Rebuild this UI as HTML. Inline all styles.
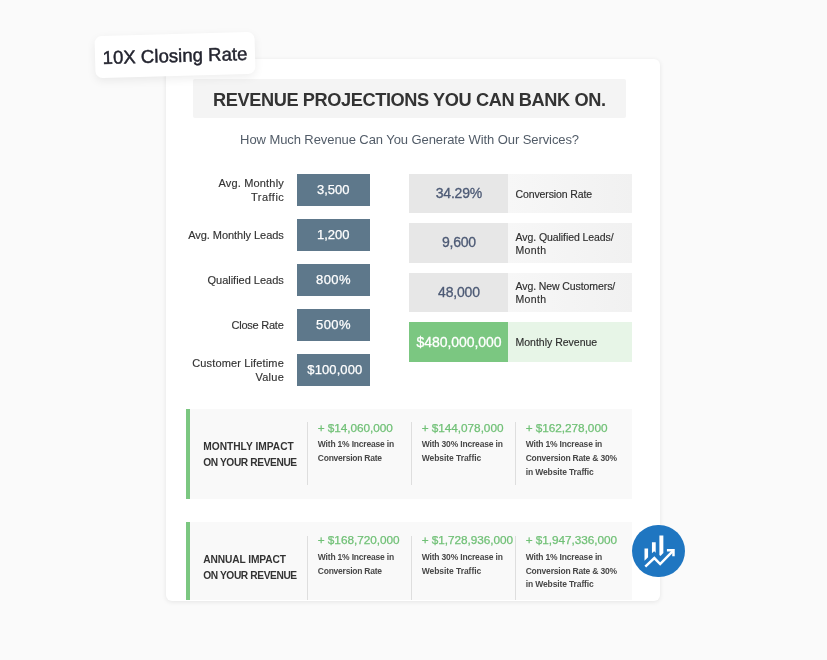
<!DOCTYPE html>
<html><head><meta charset="utf-8"><title>Revenue Projections</title>
<style>
*{box-sizing:border-box;margin:0;padding:0}
html,body{width:827px;height:660px;overflow:hidden}
body{background:#fafafa;font-family:"Liberation Sans",sans-serif;position:relative;color:#333}
.abs{position:absolute}
.card{left:166.4px;top:59px;width:493.4px;height:541.6px;background:#fff;border-radius:6px;box-shadow:0 1px 5px rgba(0,0,0,.09)}
.titlebar{left:193.3px;top:79px;width:432.4px;height:38.8px;background:#f4f4f4;border-radius:2px}
.inp{left:297px;width:72.5px;height:32px;background:#5e788b}
.rvb{left:409.3px;width:99px;height:39.5px;background:#e7e7e7}
.rlb{left:508.3px;width:123.7px;height:39.5px;background:linear-gradient(to right,#f7f7f7,#f1f1f1)}
.panel{left:185.8px;width:446.2px;background:#f9f9f9;border-left:4px solid #7bc781}
.div{width:1px;background:#dedede}
.t{position:absolute;white-space:nowrap;display:inline-block;line-height:1.2}
.title{font-weight:bold;font-size:18.2px;color:#333}
.sub{font-size:13px;color:#525c68}
.lbl{font-size:11px;color:#333;-webkit-text-stroke:.15px #333}
.iv{font-size:13px;color:#fff;-webkit-text-stroke:.25px #fff}
.rv{font-size:14px;color:#4d5a75;-webkit-text-stroke:.3px #4d5a75}
.rv.w{color:#fff;-webkit-text-stroke:.3px #fff}
.rl{font-size:10.5px;color:#2e2e2e;-webkit-text-stroke:.15px #2e2e2e}
.ph{font-weight:bold;font-size:10.2px;color:#333}
.amt{color:#70c076;font-size:11.8px;-webkit-text-stroke:.25px #70c076}
.desc{font-size:8.5px;font-weight:bold;color:#484848}
.tag{left:94.6px;top:33.6px;width:160px;height:41.6px;background:#fff;border-radius:7px;transform:rotate(-1.6deg);box-shadow:0 3px 10px rgba(0,0,0,.07)}
.tagt{left:94.5px;top:33.9px;width:160px;height:42px;transform:rotate(-1.6deg);font-size:18.5px;line-height:43px;color:#23242f;text-align:center;white-space:nowrap;-webkit-text-stroke:.45px #23242f;letter-spacing:.05px}
.circ{left:632.2px;top:524.7px;width:52.6px;height:52.6px;border-radius:50%;background:#1f76c1}
</style></head><body>
<div class="abs card"></div>
<div class="abs titlebar"></div>
<div class="abs inp" style="top:173.7px"></div>
<div class="abs inp" style="top:218.7px"></div>
<div class="abs inp" style="top:263.7px"></div>
<div class="abs inp" style="top:308.7px"></div>
<div class="abs inp" style="top:353.7px"></div>
<div class="abs rvb" style="top:173.7px"></div><div class="abs rlb" style="top:173.7px"></div>
<div class="abs rvb" style="top:223.2px"></div><div class="abs rlb" style="top:223.2px"></div>
<div class="abs rvb" style="top:272.8px"></div><div class="abs rlb" style="top:272.8px"></div>
<div class="abs rvb" style="top:322.3px;background:#7bc781"></div><div class="abs rlb" style="top:322.3px;background:#e7f5e7"></div>
<div class="abs panel" style="top:408.7px;height:90px"></div>
<div class="abs div" style="left:307px;top:421.8px;height:63.2px"></div>
<div class="abs div" style="left:411px;top:421.8px;height:63.2px"></div>
<div class="abs div" style="left:515px;top:421.8px;height:63.2px"></div>
<div class="abs panel" style="top:522.3px;height:78.2px"></div>
<div class="abs div" style="left:307px;top:535.8px;height:64.7px"></div>
<div class="abs div" style="left:411px;top:535.8px;height:64.7px"></div>
<div class="abs div" style="left:515px;top:535.8px;height:64.7px"></div>
<span class="t title" style="letter-spacing:-0.398px;left:213.00px;top:90.00px">REVENUE PROJECTIONS YOU CAN BANK ON.</span>
<span class="t sub" style="letter-spacing:-0.083px;left:240.10px;top:132.00px">How Much Revenue Can You Generate With Our Services?</span>
<span class="t lbl" style="letter-spacing:0.183px;left:218.40px;top:177.00px">Avg. Monthly</span>
<span class="t lbl" style="letter-spacing:0.458px;left:251.10px;top:191.00px">Traffic</span>
<span class="t lbl" style="letter-spacing:-0.048px;left:188.20px;top:229.00px">Avg. Monthly Leads</span>
<span class="t lbl" style="letter-spacing:-0.011px;left:207.50px;top:274.00px">Qualified Leads</span>
<span class="t lbl" style="letter-spacing:-0.236px;left:231.50px;top:319.00px">Close Rate</span>
<span class="t lbl" style="letter-spacing:0.146px;left:192.20px;top:357.00px">Customer Lifetime</span>
<span class="t lbl" style="letter-spacing:0.243px;left:255.50px;top:371.00px">Value</span>
<span class="t iv" style="letter-spacing:-0.012px;left:317.05px;top:182.00px">3,500</span>
<span class="t iv" style="letter-spacing:-0.012px;left:317.05px;top:227.00px">1,200</span>
<span class="t iv" style="letter-spacing:0.450px;left:316.00px;top:272.00px">800%</span>
<span class="t iv" style="letter-spacing:0.450px;left:316.00px;top:317.00px">500%</span>
<span class="t iv" style="letter-spacing:0.109px;left:307.30px;top:362.00px">$100,000</span>
<span class="t rv" style="letter-spacing:-0.177px;left:435.70px;top:185.00px">34.29%</span>
<span class="t rv" style="letter-spacing:-0.237px;left:441.95px;top:234.00px">9,600</span>
<span class="t rv" style="letter-spacing:-0.186px;left:438.05px;top:284.00px">48,000</span>
<span class="t rv w" style="letter-spacing:-0.049px;left:416.45px;top:334.00px">$480,000,000</span>
<span class="t rl" style="letter-spacing:-0.108px;left:515.50px;top:188.00px">Conversion Rate</span>
<span class="t rl" style="letter-spacing:-0.071px;left:515.50px;top:231.00px">Avg. Qualified Leads/</span>
<span class="t rl" style="letter-spacing:0.328px;left:515.50px;top:244.00px">Month</span>
<span class="t rl" style="letter-spacing:-0.091px;left:515.50px;top:280.00px">Avg. New Customers/</span>
<span class="t rl" style="letter-spacing:0.328px;left:515.50px;top:293.00px">Month</span>
<span class="t rl" style="letter-spacing:-0.001px;left:515.50px;top:336.00px">Monthly Revenue</span>
<span class="t ph" style="letter-spacing:0.017px;left:203.20px;top:441.00px">MONTHLY IMPACT</span>
<span class="t ph" style="letter-spacing:-0.390px;left:203.20px;top:457.00px">ON YOUR REVENUE</span>
<span class="t amt" style="letter-spacing:-0.073px;left:317.80px;top:421.00px">+ $14,060,000</span>
<span class="t amt" style="letter-spacing:-0.042px;left:421.70px;top:421.00px">+ $144,078,000</span>
<span class="t amt" style="letter-spacing:-0.042px;left:525.70px;top:421.00px">+ $162,278,000</span>
<span class="t desc" style="letter-spacing:-0.187px;left:317.80px;top:439.00px">With 1% Increase in</span>
<span class="t desc" style="letter-spacing:-0.232px;left:317.80px;top:453.00px">Conversion Rate</span>
<span class="t desc" style="letter-spacing:-0.173px;left:421.70px;top:439.00px">With 30% Increase in</span>
<span class="t desc" style="letter-spacing:-0.058px;left:421.70px;top:453.00px">Website Traffic</span>
<span class="t desc" style="letter-spacing:-0.176px;left:525.70px;top:439.00px">With 1% Increase in</span>
<span class="t desc" style="letter-spacing:-0.206px;left:525.70px;top:453.00px">Conversion Rate &amp; 30%</span>
<span class="t desc" style="letter-spacing:-0.126px;left:525.70px;top:467.00px">in Website Traffic</span>
<span class="t ph" style="letter-spacing:-0.096px;left:203.20px;top:554.00px">ANNUAL IMPACT</span>
<span class="t ph" style="letter-spacing:-0.390px;left:203.20px;top:570.00px">ON YOUR REVENUE</span>
<span class="t amt" style="letter-spacing:-0.050px;left:317.80px;top:533.00px">+ $168,720,000</span>
<span class="t amt" style="letter-spacing:-0.058px;left:421.70px;top:533.00px">+ $1,728,936,000</span>
<span class="t amt" style="letter-spacing:-0.058px;left:525.70px;top:533.00px">+ $1,947,336,000</span>
<span class="t desc" style="letter-spacing:-0.187px;left:317.80px;top:552.00px">With 1% Increase in</span>
<span class="t desc" style="letter-spacing:-0.232px;left:317.80px;top:566.00px">Conversion Rate</span>
<span class="t desc" style="letter-spacing:-0.173px;left:421.70px;top:552.00px">With 30% Increase in</span>
<span class="t desc" style="letter-spacing:-0.058px;left:421.70px;top:566.00px">Website Traffic</span>
<span class="t desc" style="letter-spacing:-0.176px;left:525.70px;top:552.00px">With 1% Increase in</span>
<span class="t desc" style="letter-spacing:-0.206px;left:525.70px;top:566.00px">Conversion Rate &amp; 30%</span>
<span class="t desc" style="letter-spacing:-0.126px;left:525.70px;top:579.00px">in Website Traffic</span>
<div class="abs tag"></div>
<div class="abs tagt">10X Closing Rate</div>
<div class="abs circ">
<svg width="52.6" height="52.6" viewBox="0 0 53 53" style="display:block"><g fill="#fff"><path d="M12.6 23.8h3.6v8.8l-3.6 3.4z"/><path d="M20.1 17.3h3.8v10.7l-1.6-1.5-2.2 2z"/><path d="M27.6 10.7h4v17.6l-2.9 2.9-1.1-1z"/></g><path d="M13.4 41.9 L22.5 33.3 L28.4 39.3 L41.3 26.1" fill="none" stroke="#fff" stroke-width="2.5"/><path d="M35.2 25.4 L41.8 25.4 L41.8 31.6" fill="none" stroke="#fff" stroke-width="2.5"/></svg>
</div>
</body></html>
